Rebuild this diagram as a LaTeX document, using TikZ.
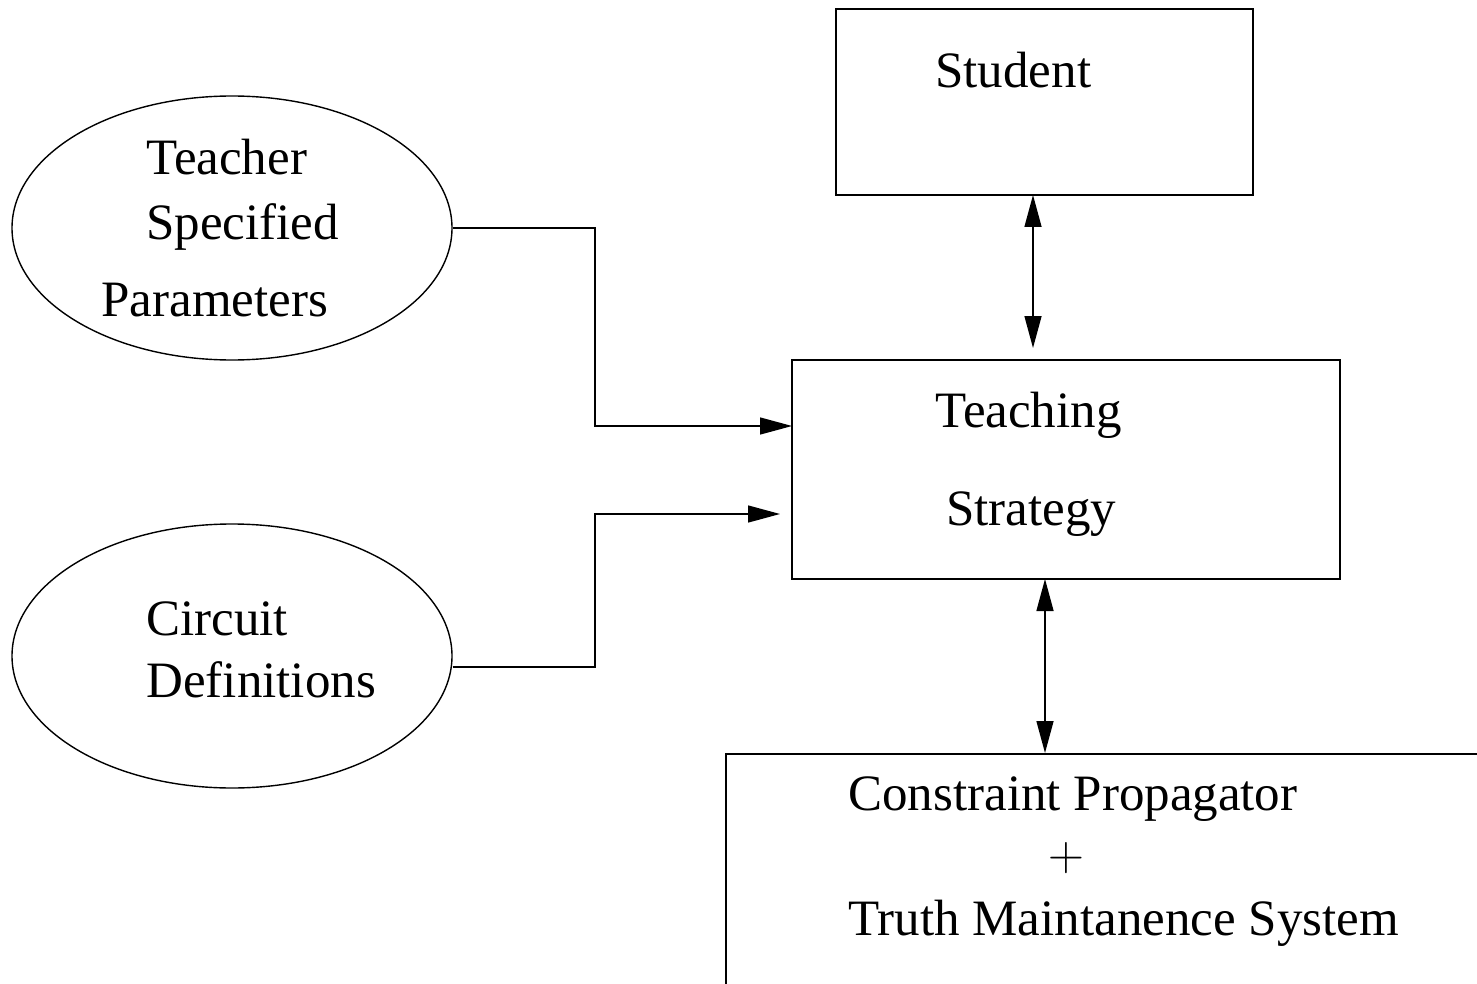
\documentclass[tikz,border=0pt]{standalone}
\usepackage{fontspec}
\setmainfont{Liberation Serif}
\usetikzlibrary{arrows.meta,shapes.geometric}

\tikzset{
    box/.style={draw, line width=0.7pt, inner sep=0pt},
    blob/.style={draw, ellipse, line width=0.7pt, inner sep=0pt,
        minimum width=220pt, minimum height=132pt},
    txt/.style={anchor=base west, inner sep=0pt,
        font=\fontsize{25.5}{30}\selectfont},
    link/.style={line width=0.7pt, -{Triangle[length=16pt, width=8.5pt]}},
    twoway/.style={line width=0.7pt,
        {Triangle[length=16pt, width=8.5pt]}-{Triangle[length=16pt, width=8.5pt]}}
}

\begin{document}
\begin{tikzpicture}[x=0.5pt, y=-0.5pt]
    \useasboundingbox (0,0) rectangle (1477,984);
    \clip (0,0) rectangle (1477,984);

    % Draw the boxes and the ellipses
    \node[box, minimum width=208.5pt, minimum height=93pt] (student) at (1044.5,102) {};
    \node[box, minimum width=274pt, minimum height=109.5pt] (strategy) at (1066,469.5) {};
    \node[blob] (params) at (232,228) {};
    \node[blob] (circuits) at (232,656) {};
    \draw[line width=0.7pt] (726,1100) -- (726,754) -- (1600,754);

    % Labels
    \node[txt] (lstudent) at (935,88) {Student};
    \node[txt] (lteach) at (935,427) {Teaching};
    \node[txt] (lstrat) at (946,525) {Strategy};
    \node[txt] (lteacher) at (146,175) {Teacher};
    \node[txt] (lspec) at (146,240) {Specified};
    \node[txt] (lparam) at (101,316) {Parameters};
    \node[txt] (lcirc) at (146,635) {Circuit};
    \node[txt] (ldefs) at (146,697) {Definitions};
    \node[txt] (lcons) at (848,810) {Constraint Propagator};
    \node[txt, anchor=base] (lplus) at (1066,870) {$+$};
    \node[txt] (ltruth) at (848,935) {Truth Maintanence System};

    % End points of the connectors
    \coordinate (bend) at (595,0);
    \coordinate (in1) at (792,426);
    \coordinate (in2) at (780,514);
    \coordinate (out2) at ([yshift=-5.5pt]circuits.east);
    \coordinate (sdown) at (1033,195);
    \coordinate (sup1) at (1033,348);
    \coordinate (tdown) at (1045,579);
    \coordinate (cup) at (1045,753);

    % Connectors
    \draw[link] (params.east) -| (bend |- in1) -- (in1);
    \draw[link] (out2) -| (bend |- in2) -- (in2);
    \draw[twoway] (sdown) -- (sup1);
    \draw[twoway] (tdown) -- (cup);

\end{tikzpicture}
\end{document}
